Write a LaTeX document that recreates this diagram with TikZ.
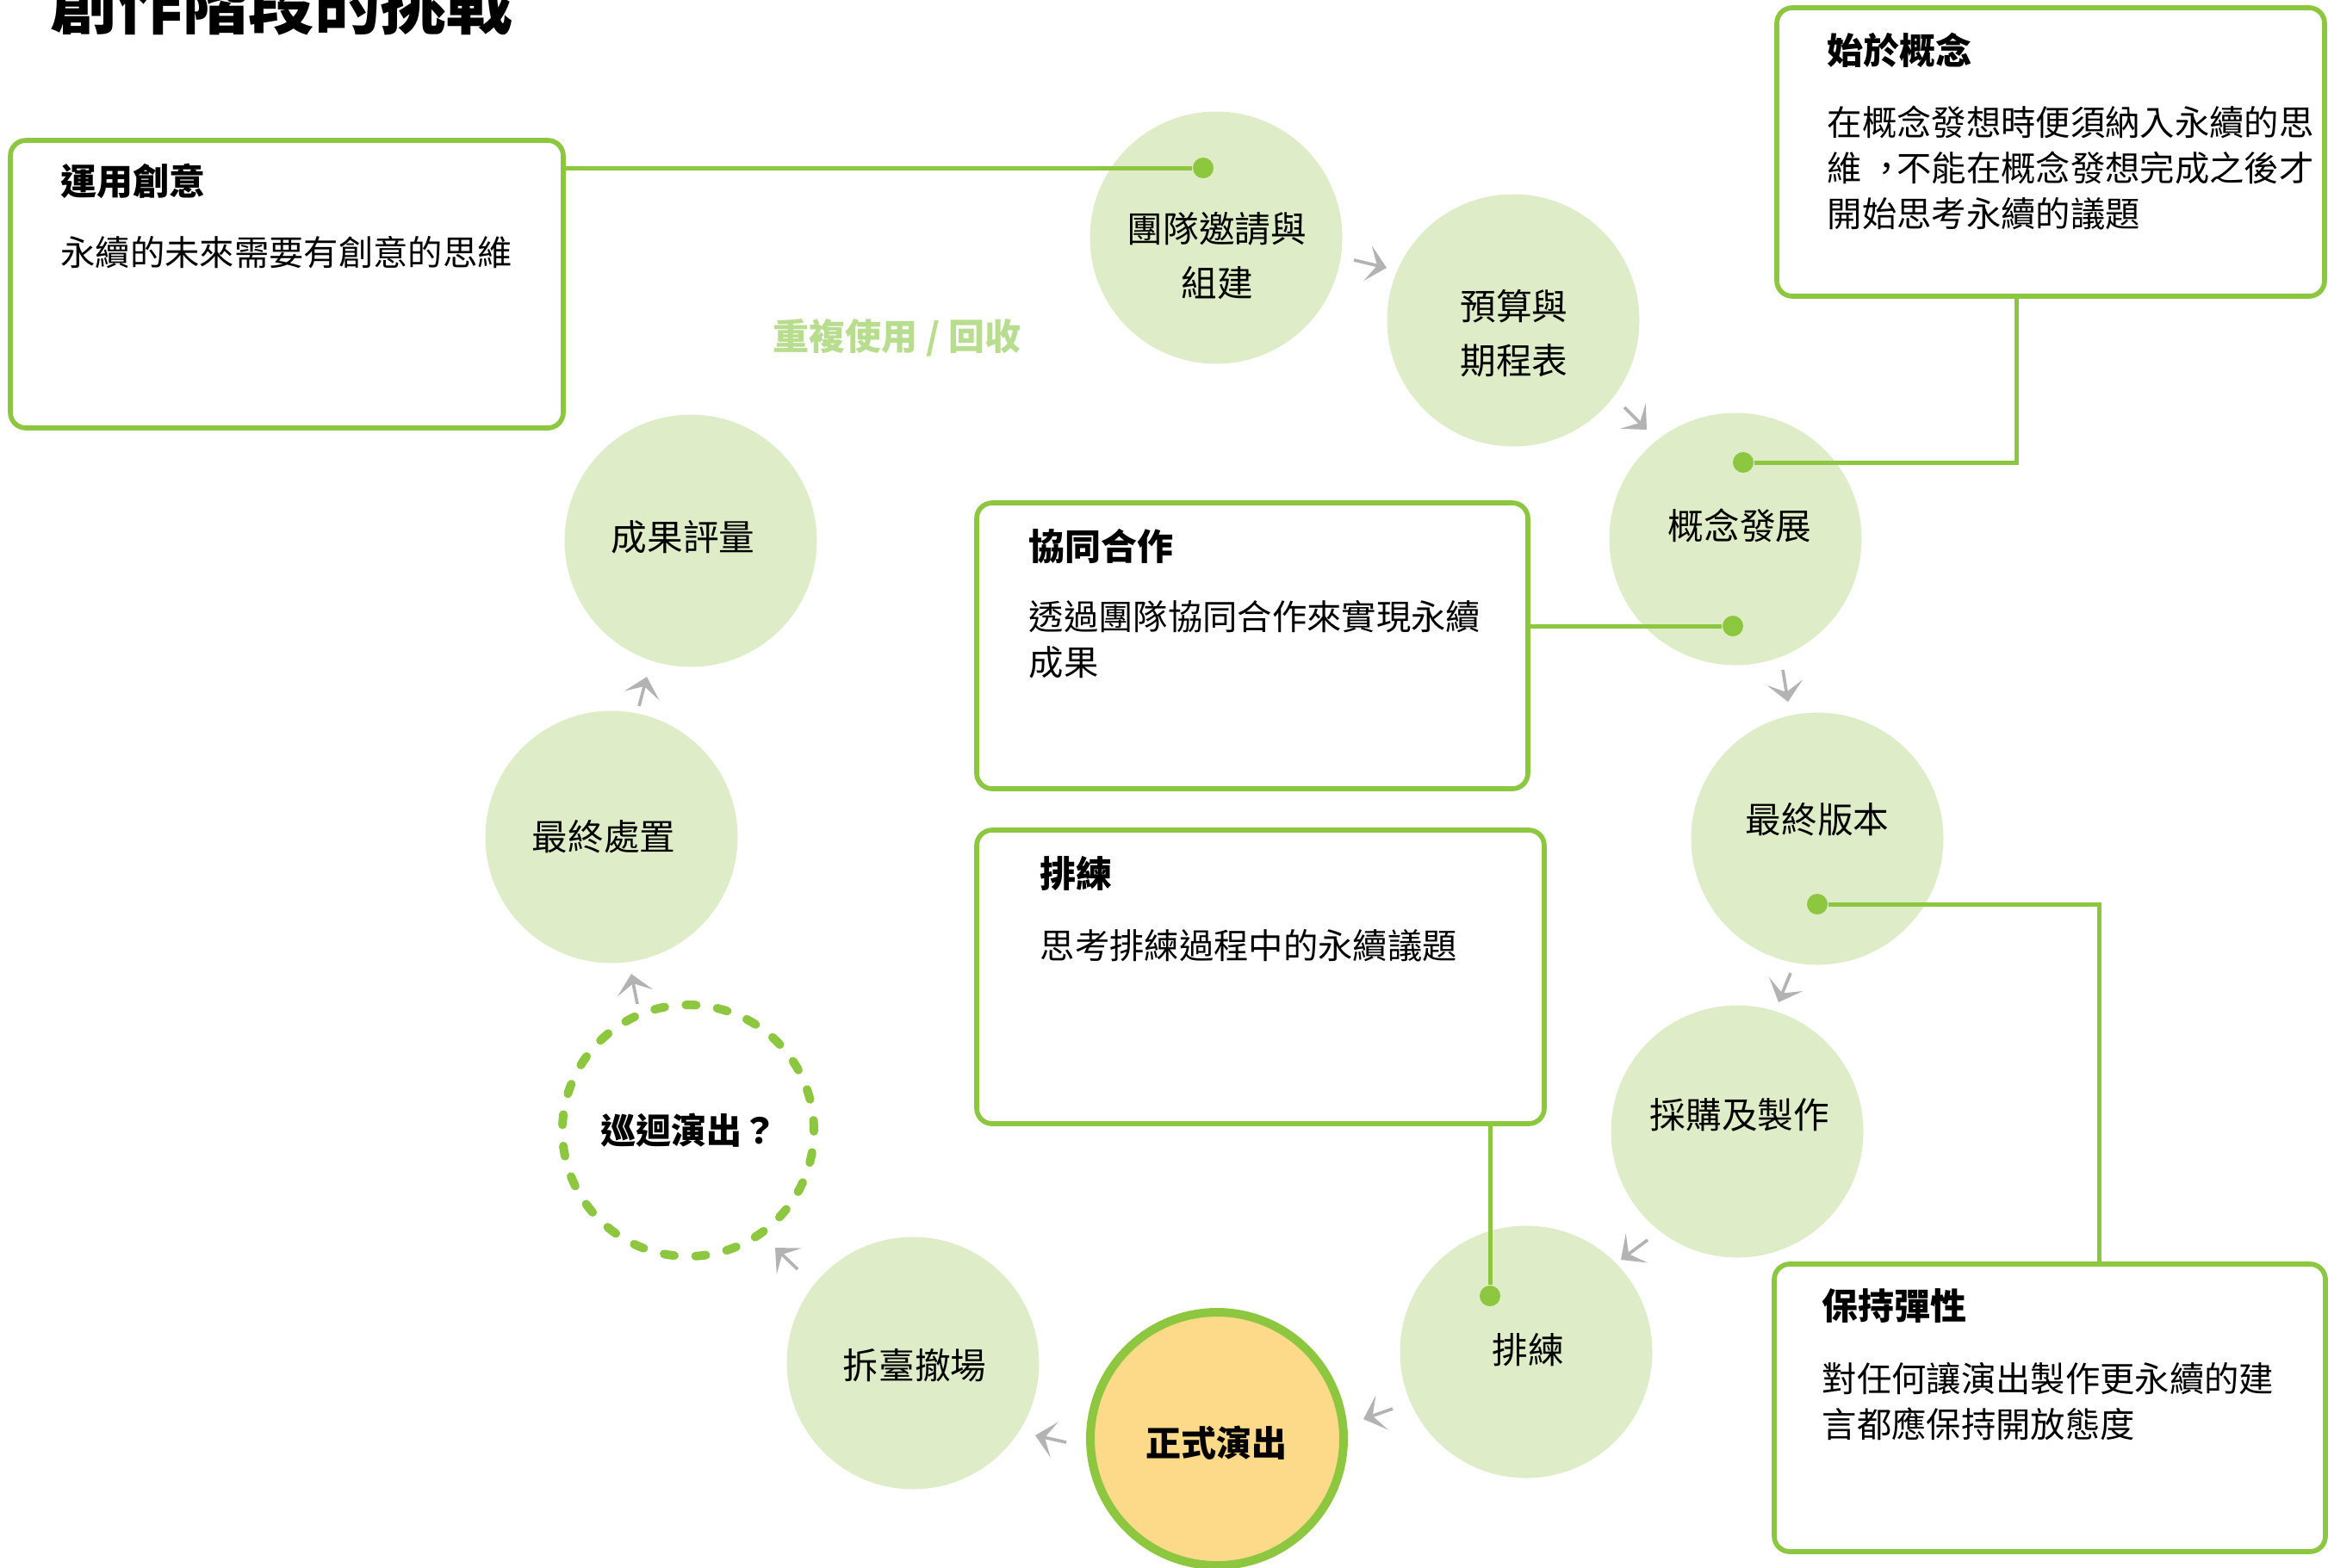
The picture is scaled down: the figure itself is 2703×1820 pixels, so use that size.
\documentclass[tikz,border=0pt]{standalone}
\usepackage{fontspec}
\setmainfont{Noto Sans CJK TC}
\usetikzlibrary{arrows.meta}
\definecolor{lgreen}{HTML}{8DC63F}
\definecolor{bubblefill}{HTML}{DEEDC7}
\definecolor{stargold}{HTML}{FDDA8A}
\definecolor{arrgray}{HTML}{B3B3B3}
\definecolor{labelgreen}{HTML}{B8DD8F}
\newcommand{\midcomma}{\hspace{0.2em}，\hspace{-0.2em}}
\begin{document}
\begin{tikzpicture}[x=0.3pt,y=-0.3pt,
  bubble/.style={circle, fill=bubblefill, minimum size=87.9pt, inner sep=0pt},
  mainstage/.style={circle, fill=stargold, draw=lgreen, line width=3pt, minimum size=88.2pt, inner sep=0pt},
  tour/.style={circle, draw=lgreen, line width=3pt, dash pattern=on 3.6pt off 7.4pt, line cap=round, minimum size=87.6pt, inner sep=0pt},
  card/.style={draw=lgreen, line width=1.7pt, rounded corners=5.4pt, inner sep=0pt, fill=white},
  greendot/.style={circle, fill=lgreen, minimum size=7.2pt, inner sep=0pt},
  link/.style={draw=lgreen, line width=1.5pt},
  flow/.style={draw=arrgray, line width=1.1pt, -{Stealth[length=6.8pt,width=12.6pt,inset=3.4pt]}},
  ctext/.style={font=\fontsize{12.5pt}{18.9pt}\selectfont, align=center, inner sep=0pt},
  cbold/.style={font=\bfseries\fontsize{12.3pt}{18.9pt}\selectfont, align=center, inner sep=0pt},
  head/.style={font=\bfseries\fontsize{12.6pt}{15pt}\selectfont, anchor=west, inner sep=0pt},
  body/.style={font=\fontsize{12.1pt}{15.9pt}\selectfont, anchor=west, align=left, inner sep=0pt}
]
\useasboundingbox (0,0) rectangle (2703,1820);

% title
\node[font=\bfseries\fontsize{23pt}{27pt}\selectfont, anchor=west, inner sep=0pt] (title) at (58,4) {創作階段的挑戰};

% circles
\node[bubble] (c1) at (1412,276) {};
\node[bubble] (c2) at (1757,372) {};
\node[bubble] (c3) at (2015,626) {};
\node[bubble] (c4) at (2110,974) {};
\node[bubble] (c5) at (2017,1314) {};
\node[bubble] (c6) at (1772,1570) {};
\node[mainstage] (c7) at (1413,1671) {};
\node[bubble] (c8) at (1060,1583) {};
\node[tour] (c9) at (799,1313) {};
\node[bubble] (c10) at (710,972) {};
\node[bubble] (c11) at (802,628) {};

% circle texts
\node[ctext] (t1) at (1413,297.5) {團隊邀請與\\組建};
\node[ctext] (t2) at (1758,387) {預算與\\期程表};
\node[ctext] (t3) at (2020,610) {概念發展};
\node[ctext] (t4) at (2110,952) {最終版本};
\node[ctext] (t5) at (2020,1295) {採購及製作};
\node[ctext] (t6) at (1774,1568) {排練};
\node[cbold] (t7) at (1412,1676) {正式演出};
\node[ctext] (t8) at (1062,1586) {拆臺撤場};
\node[cbold] (t9) at (800,1313) {巡迴演出？};
\node[ctext] (t10) at (701,972) {最終處置};
\node[ctext] (t11) at (793,624) {成果評量};

% recycle label
\node[font=\bfseries\fontsize{12.6pt}{15pt}\selectfont, text=labelgreen, anchor=west, inner sep=0pt] (recycle) at (897,392) {重複使用 / 回收};

% flow arrows
\coordinate (a1s) at (1572,302);  \coordinate (a1e) at (1610,311);
\coordinate (a2s) at (1886,473);  \coordinate (a2e) at (1912,499);
\coordinate (a3s) at (2070,778);  \coordinate (a3e) at (2076,815);
\coordinate (a4s) at (2079,1130); \coordinate (a4e) at (2065,1164);
\coordinate (a5s) at (1913,1440); \coordinate (a5e) at (1882,1463);
\coordinate (a6s) at (1617,1636); \coordinate (a6e) at (1583,1648);
\coordinate (a7s) at (1238,1675); \coordinate (a7e) at (1202,1667);
\coordinate (a8s) at (926,1474);  \coordinate (a8e) at (900,1449);
\coordinate (a9s) at (740,1166);  \coordinate (a9e) at (733,1131);
\coordinate (a10s) at (742,820);  \coordinate (a10e) at (751,786);
\foreach \i in {1,...,10} { \draw[flow] (a\i s) -- (a\i e); }

% cards
\node[card, minimum width=192.6pt, minimum height=100.2pt] (b1) at (333,330) {};
\node[card, minimum width=190.8pt, minimum height=100.5pt] (b2) at (2381,176.5) {};
\node[card, minimum width=192pt, minimum height=99.6pt] (b3) at (1454,750) {};
\node[card, minimum width=197.7pt, minimum height=102.3pt] (b4) at (1463.5,1134.5) {};
\node[card, minimum width=192pt, minimum height=100.2pt] (b5) at (2380,1635) {};

% card texts
\node[head] (h1) at (70,210) {運用創意};
\node[body] (p1) at (70,293) {永續的未來需要有創意的思維};
\node[head] (h2) at (2121,58) {始於概念};
\node[body] (p2) at (2121,195) {在概念發想時便須納入永續的思\\維\midcomma 不能在概念發想完成之後才\\開始思考永續的議題};
\node[head] (h3) at (1194,634) {協同合作};
\node[body] (p3) at (1194,742.5) {透過團隊協同合作來實現永續\\成果};
\node[head] (h4) at (1207,1014) {排練};
\node[body] (p4) at (1207,1098) {思考排練過程中的永續議題};
\node[head] (h5) at (2115,1517) {保持彈性};
\node[body] (p5) at (2115,1627.5) {對任何讓演出製作更永續的建\\言都應保持開放態度};

% dots
\node[greendot] (d1) at (1397,195) {};
\node[greendot] (d2) at (2024,537) {};
\node[greendot] (d3) at (2012,727) {};
\node[greendot] (d4) at (1730,1505) {};
\node[greendot] (d5) at (2110,1050) {};
\coordinate (k2) at (2341,537);
\coordinate (k5) at (2437,1050);

% connectors
\draw[link] (d1 -| b1.east) -- (d1);
\draw[link] (b2.south -| k2) -- (k2) -- (d2);
\draw[link] (d3 -| b3.east) -- (d3);
\draw[link] (b4.south -| d4) -- (d4);
\draw[link] (b5.north -| k5) -- (k5) -- (d5);
\end{tikzpicture}
\end{document}
